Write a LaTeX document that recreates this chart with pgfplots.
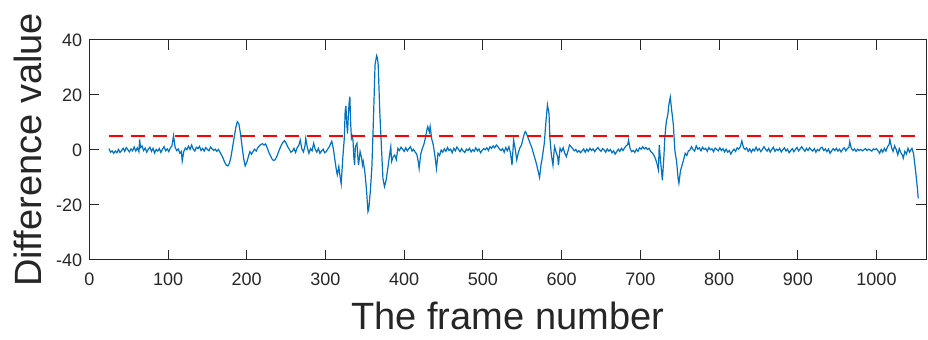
\documentclass[border=0pt]{standalone}
\usepackage{pgfplots}
\pgfplotsset{compat=1.18}
\usepackage{fontspec}
\setmainfont{Liberation Sans}
\definecolor{mblue}{rgb}{0,0.447,0.741}
\definecolor{axgray}{rgb}{0.15,0.15,0.15}
\begin{document}
\begin{tikzpicture}
\path[use as bounding box] (-44.65pt,-40pt) rectangle (419.35pt,130pt);
\begin{axis}[
  at={(0,0)}, anchor=south west,
  scale only axis,
  width=418.4pt, height=110pt,
  xmin=0, xmax=1063, ymin=-40, ymax=40,
  xtick={0,100,...,1000}, ytick={-40,-20,0,20,40},
  tick align=inside,
  major tick length=5pt,
  axis line style={axgray, line width=0.5pt},
  every tick/.style={axgray, line width=0.5pt},
  tick label style={font=\fontsize{9}{10}\selectfont, text=axgray},
  /pgf/number format/assume math mode=true,
  /pgf/number format/1000 sep={},
  xticklabel style={yshift=-3pt},
  xlabel={The frame number},
  ylabel={Difference value},
  xlabel style={font=\fontsize{19}{21}\selectfont, text=axgray, at={(axis description cs:0.5,0)}, anchor=base, yshift=-35pt},
  ylabel style={font=\fontsize{19}{21}\selectfont, text=axgray, at={(axis description cs:-0.0729,0.5)}, anchor=center},
  clip=false,
]
\addplot[mblue, line width=0.6pt] coordinates {
(25,0.5)(27,-0.8)(29,-0.3)(31,-1.2)(33,-0.4)(35,-1.0)(37,0.2)(39,-0.9)(41,-0.2)(43,0.6)
(45,-0.5)(47,0.9)(49,0.1)(51,-0.7)(53,0.4)(55,-0.3)(57,1.1)(59,-0.4)(61,0.8)(63,-0.6)
(64,3.8)(65,0.9)(67,1.5)(69,-0.2)(71,0.7)(73,-0.8)(75,0.3)(77,1.0)(79,-0.5)(81,0.6)
(83,-1.1)(85,0.2)(87,-0.4)(89,0.5)(91,-0.9)(93,0.3)(95,1.2)(97,-0.3)(99,0.4)(101,-0.6)
(103,0.8)(105,1.5)(107,5.2)(109,1.0)(111,-0.2)(113,0.4)(115,-1.2)(117,-0.5)(118,-4.0)(120,-0.6)
(122,0.7)(124,0.1)(126,1.4)(128,0.2)(130,1.8)(132,0.3)(134,-0.4)(136,1.0)(138,0.5)(140,1.3)
(142,-0.2)(144,0.6)(146,-0.4)(148,0.9)(150,0.2)(152,-0.3)(154,1.1)(156,0.4)(158,-0.2)(160,0.3)
(162,-0.5)(164,0.2)(166,-0.8)(168,-1.8)(170,-3.0)(172,-4.5)(174,-5.5)(176,-5.8)(178,-4.8)(180,-2.5)
(182,1.0)(184,4.5)(186,8.0)(188,10.3)(190,9.5)(192,6.0)(194,1.5)(196,-3.0)(198,-5.8)(200,-4.5)
(202,-2.5)(204,-0.6)(206,-1.5)(208,-0.5)(210,0.3)(212,-0.4)(214,0.8)(216,1.5)(218,2.0)(220,2.3)
(222,1.8)(224,2.2)(226,0.8)(228,-0.8)(230,-2.0)(232,-3.2)(234,-3.8)(236,-3.6)(238,-2.5)(240,-1.0)
(242,0.5)(244,1.8)(246,2.8)(248,3.4)(250,2.5)(252,1.2)(254,0.3)(256,-0.8)(258,-0.4)(260,0.6)
(262,-0.9)(264,0.8)(266,1.6)(268,3.6)(270,0.4)(272,-0.7)(274,1.5)(275,4.2)(277,0.9)(279,-1.2)
(281,0.5)(283,-0.3)(285,2.4)(287,0.2)(289,-0.8)(291,0.6)(293,-1.2)(295,-0.4)(297,0.3)(299,-1.0)
(301,-0.6)(303,0.4)(305,1.2)(307,2.6)(308,3.2)(310,0.5)(312,-3.6)(314,-7.5)(315,-9.0)(317,-6.0)
(318,-8.5)(320,-12.3)(322,-3.0)(324,4.5)(325,14.0)(326,16.0)(327,10.0)(328,6.0)(329,12.0)(330,17.0)
(331,19.4)(332,10.0)(333,4.2)(334,5.0)(335,3.6)(336,-2.4)(337,-5.5)(338,1.2)(340,2.4)(341,-2.0)
(342,-5.5)(344,-0.6)(346,-3.0)(347,-5.5)(348,-4.2)(350,-7.9)(352,-14.0)(354,-22.4)(355,-21.5)(357,-15.0)
(359,-6.0)(361,11.5)(363,31.0)(365,34.3)(366,33.5)(367,31.0)(369,14.0)(371,1.8)(373,-10.3)(375,-13.3)
(377,-11.0)(378,-9.0)(380,-5.0)(382,-0.6)(383,1.2)(384,-4.2)(386,-2.5)(388,-1.8)(390,-3.5)(392,0.6)
(394,-0.2)(396,1.0)(398,0.3)(400,-0.5)(402,0.8)(404,-0.3)(406,0.5)(408,1.2)(410,-0.4)(412,0.2)
(414,-0.8)(416,-1.5)(418,-4.5)(419,-6.7)(421,-1.5)(423,0.5)(425,2.0)(427,4.5)(429,7.5)(430,8.5)
(432,6.5)(433,8.5)(435,4.0)(437,1.8)(439,-2.0)(441,-6.7)(443,-1.2)(445,-2.0)(447,0.0)(449,-0.8)
(451,0.4)(453,-0.5)(455,0.9)(457,-0.2)(459,0.3)(461,-1.0)(463,0.6)(465,-0.3)(467,1.1)(469,0.2)
(471,-0.6)(473,0.5)(475,-0.4)(477,-0.9)(479,0.3)(481,-0.2)(483,0.6)(485,-0.7)(487,0.1)(489,-0.5)
(491,0.8)(493,-0.3)(495,0.4)(497,-1.0)(499,-0.2)(501,0.5)(503,0.1)(505,0.8)(507,-0.2)(509,1.2)
(511,0.6)(513,1.5)(515,0.8)(517,1.8)(519,1.2)(521,0.4)(523,-0.2)(525,0.5)(527,-0.8)(529,0.9)
(531,-0.3)(533,1.2)(535,-1.0)(537,-5.5)(539,3.6)(541,0.5)(543,-3.6)(545,-1.0)(547,0.8)(549,1.8)
(551,4.2)(553,6.3)(554,6.7)(556,5.5)(558,4.0)(560,2.4)(562,1.0)(564,-1.0)(566,-3.0)(568,-5.0)
(570,-7.5)(572,-10.0)(574,-5.0)(575,-3.6)(577,0.5)(578,2.4)(580,10.0)(582,16.4)(584,13.3)(585,4.8)
(587,-1.8)(589,-5.5)(591,1.2)(593,-0.8)(595,-2.5)(596,-5.5)(598,0.6)(600,-0.5)(602,0.8)(604,-1.2)
(606,-2.4)(608,-0.5)(610,1.8)(612,1.2)(614,0.5)(616,-0.3)(618,0.2)(620,-0.8)(622,-0.2)(624,-1.0)
(626,-0.3)(628,0.4)(630,-0.8)(632,0.3)(634,-0.5)(636,0.6)(638,-0.2)(640,0.4)(642,-0.6)(644,0.2)
(646,0.9)(648,0.1)(650,-0.5)(652,0.5)(654,0.0)(656,-0.8)(658,0.4)(660,-0.4)(662,0.2)(664,-1.0)
(666,-0.3)(668,-1.5)(670,-0.6)(672,0.3)(674,-0.5)(676,0.6)(678,-0.2)(680,0.8)(682,1.5)(684,2.0)
(685,3.6)(687,0.5)(689,-0.6)(691,-0.2)(693,-0.9)(695,0.3)(697,-0.5)(699,0.8)(701,0.3)(703,1.2)
(705,0.4)(707,0.9)(709,0.2)(711,0.6)(713,-0.5)(715,-1.0)(717,-1.8)(719,-3.0)(721,-4.8)(723,-7.3)
(724,1.8)(726,-5.0)(728,-11.0)(730,-2.0)(731,4.2)(733,10.3)(735,13.0)(736,16.0)(738,19.2)(740,14.0)
(742,9.0)(743,4.0)(744,-0.6)(746,-4.0)(748,-10.5)(749,-12.1)(751,-7.5)(753,-5.5)(755,-3.5)(757,-1.2)
(759,-2.0)(761,-0.4)(763,0.0)(765,1.2)(767,0.2)(769,-0.4)(771,1.5)(773,0.3)(775,0.8)(777,-0.3)
(779,1.0)(781,0.2)(783,0.6)(785,-0.5)(787,0.9)(789,0.1)(791,0.4)(793,-0.6)(795,0.7)(797,0.2)
(799,-0.3)(801,0.8)(803,-0.2)(805,0.5)(807,-0.7)(809,0.3)(811,-0.8)(813,-0.2)(815,-1.5)(817,-0.4)
(819,0.3)(821,-0.5)(823,0.8)(825,0.3)(827,1.2)(829,3.3)(831,0.9)(833,0.2)(835,0.8)(837,-0.5)
(839,0.4)(841,-0.8)(843,0.3)(845,-0.3)(847,1.0)(849,-0.2)(851,0.5)(853,-0.6)(855,0.2)(857,1.2)
(859,0.3)(861,-0.4)(863,0.6)(865,-0.8)(867,0.2)(869,1.0)(871,-0.5)(873,0.3)(875,-0.2)(877,0.6)
(879,-0.7)(881,0.1)(883,0.8)(885,-0.4)(887,0.3)(889,-1.0)(891,-0.2)(893,0.5)(895,-0.6)(897,0.2)
(899,0.9)(901,-0.3)(903,0.4)(905,1.2)(907,0.3)(909,-0.5)(911,0.6)(913,-0.2)(915,0.8)(917,0.1)
(919,-0.4)(921,0.5)(923,-0.8)(925,0.2)(927,-0.3)(929,0.7)(931,1.0)(933,-0.2)(935,0.4)(937,-0.6)
(939,0.3)(941,-1.2)(943,-0.3)(945,0.5)(947,-0.2)(949,0.6)(951,-0.4)(953,0.3)(955,-0.7)(957,0.2)
(959,0.8)(961,-0.3)(963,0.5)(965,1.0)(966,3.0)(968,0.6)(970,-0.2)(972,0.4)(974,-0.5)(976,0.3)
(978,-0.2)(980,0.2)(982,-0.3)(984,0.1)(986,0.5)(988,-0.2)(990,0.3)(992,0.0)(994,-0.4)(996,0.4)
(998,0.1)(1000,0.5)(1002,-0.3)(1004,-1.2)(1006,0.2)(1008,-0.8)(1010,0.6)(1012,-0.4)(1014,1.2)(1016,2.0)
(1017,3.9)(1019,1.0)(1021,-0.5)(1023,1.5)(1025,0.2)(1027,-1.8)(1029,0.5)(1031,-1.0)(1033,-2.0)(1034,-3.0)
(1036,-0.5)(1038,-1.5)(1040,0.6)(1042,-0.8)(1044,0.2)(1045,0.6)(1047,-1.2)(1049,-6.0)(1050,-8.5)(1052,-14.0)
(1053,-17.6)
};
\addplot[red, line width=0.75pt, dash pattern=on 7pt off 4pt] coordinates {(25,5) (1053,5)};
\end{axis}
\end{tikzpicture}
\end{document}
